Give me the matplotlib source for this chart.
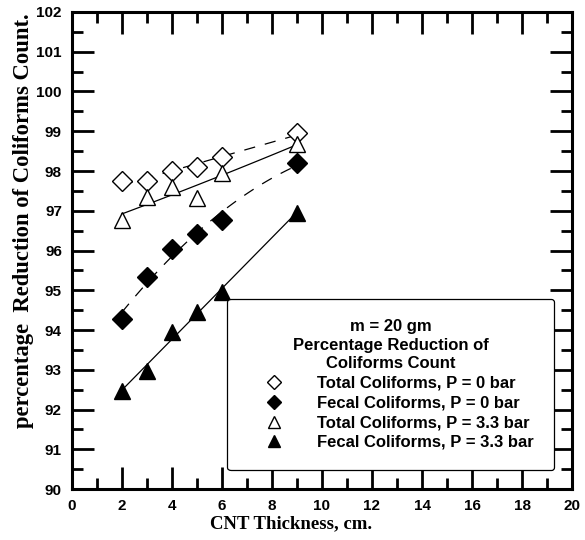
import numpy as np
import matplotlib.pyplot as plt
from matplotlib.ticker import MultipleLocator

# CNT thickness (cm) and percentage reduction for each series
thickness = [2, 3, 4, 5, 6, 9]
total_p0 = [97.75, 97.75, 98.0, 98.11, 98.36, 98.95]
fecal_p0 = [94.28, 95.33, 96.04, 96.41, 96.77, 98.19]
total_p33 = [96.77, 97.35, 97.6, 97.31, 97.96, 98.68]
fecal_p33 = [92.47, 92.98, 93.96, 94.46, 94.96, 96.95]

labels = [
    "Total Coliforms, P = 0 bar",
    "Fecal Coliforms, P = 0 bar",
    "Total Coliforms, P = 3.3 bar",
    "Fecal Coliforms, P = 3.3 bar",
]

SANS = "Liberation Sans"
SERIF = "Liberation Serif"


def fit_curve(x, y, deg):
    coef = np.polyfit(x, y, deg)
    xs = np.linspace(min(x), max(x), 100)
    return xs, np.polyval(coef, xs)


def main():
    fig = plt.figure(figsize=(5.85, 5.4), dpi=100)
    ax = fig.add_axes([0.1226, 0.0944, 0.8554, 0.8834])

    x = np.array(thickness, dtype=float)

    # trend lines
    xs, ys = fit_curve(x, total_p0, 1)
    ax.plot(xs, ys, color="black", lw=0.9, dashes=(9, 8))
    xs, ys = fit_curve(x, fecal_p0, 2)
    ax.plot(xs, ys, color="black", lw=0.9, dashes=(9, 8))
    xs, ys = fit_curve(x, total_p33, 2)
    ax.plot(xs, ys, color="black", lw=0.9)
    xs, ys = fit_curve(x, fecal_p33, 1)
    ax.plot(xs, ys, color="black", lw=0.9)

    # data points
    h1, = ax.plot(x, total_p0, "D", ms=10, mfc="white", mec="black", mew=1.0, ls="none")
    h2, = ax.plot(x, fecal_p0, "D", ms=10, mfc="black", mec="black", ls="none")
    h3, = ax.plot(x, total_p33, "^", ms=12, mfc="white", mec="black", mew=1.0, ls="none")
    h4, = ax.plot(x, fecal_p33, "^", ms=12, mfc="black", mec="black", ls="none")

    ax.set_xlim(0, 20)
    ax.set_ylim(90, 102)
    ax.xaxis.set_major_locator(MultipleLocator(2))
    ax.xaxis.set_minor_locator(MultipleLocator(1))
    ax.yaxis.set_major_locator(MultipleLocator(1))
    ax.yaxis.set_minor_locator(MultipleLocator(0.5))
    ax.tick_params(which="both", direction="in", top=True, right=True, width=2)
    ax.tick_params(which="major", length=16, pad=7)
    ax.tick_params(which="minor", length=8)
    for sp in ax.spines.values():
        sp.set_linewidth(2.2)

    for lab in ax.get_xticklabels() + ax.get_yticklabels():
        lab.set_fontfamily(SANS)
        lab.set_fontweight("bold")
        lab.set_fontsize(11)

    ax.set_xlabel("CNT Thickness, cm.", fontfamily=SERIF, fontweight="bold",
                  fontsize=13.5, labelpad=2)
    ax.xaxis.set_label_coords(0.438, -0.055)
    ax.set_ylabel("percentage  Reduction of Coliforms Count.", fontfamily=SERIF,
                  fontweight="bold", fontsize=16.3)
    ax.yaxis.set_label_coords(-0.076, 0.562)

    leg = ax.legend([h1, h2, h3, h4], labels,
                    title="m = 20 gm\nPercentage Reduction of\nColiforms Count",
                    loc="lower right", bbox_to_anchor=(0.964, 0.04),
                    borderaxespad=0, markerscale=0.7, handlelength=3.2,
                    handleheight=0.6, handletextpad=1.0, labelspacing=0.28,
                    borderpad=1.2, frameon=True, fancybox=True, framealpha=1,
                    prop={"family": SANS, "weight": "bold", "size": 12})
    leg.get_frame().set_edgecolor("black")
    leg.get_frame().set_linewidth(0.9)
    title = leg.get_title()
    title.set_fontfamily(SANS)
    title.set_fontweight("bold")
    title.set_fontsize(12)
    title.set_multialignment("center")
    title.set_linespacing(1.3)

    fig.savefig("out.png", dpi=100)


if __name__ == "__main__":
    main()
